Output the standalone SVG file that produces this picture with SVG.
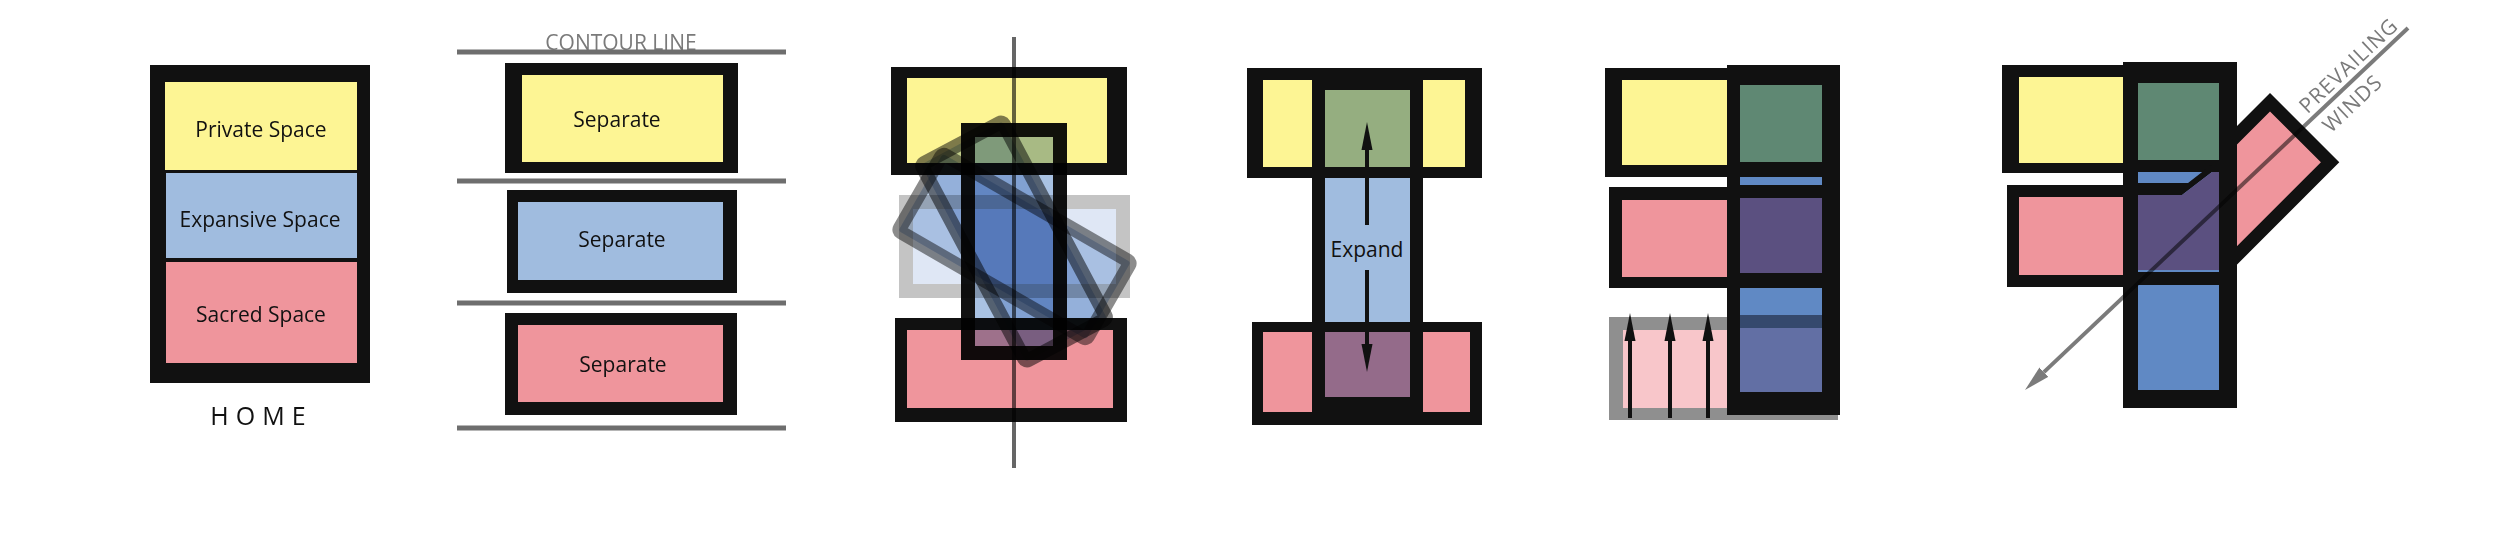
<svg xmlns="http://www.w3.org/2000/svg" width="2500" height="544" viewBox="0 0 2500 544">
<style>
.k{fill:#111}
.y{fill:#fdf594}
.b{fill:#a0bcdf}
.p{fill:#ef959c}
.gr{fill:#95ae80}
.pu{fill:#946b8a}
.dg{fill:#5f8873}
.dp{fill:#5b5080}
.db{fill:#6089c4}
.t{font-family:'Open Sans','Liberation Sans',sans-serif;font-size:21px;fill:#111;text-anchor:middle}
.gt{font-family:'Open Sans','Liberation Sans',sans-serif;font-size:21px;fill:#7a7a7a;text-anchor:middle}
.home{font-family:'Open Sans','Liberation Sans',sans-serif;font-size:25px;fill:#111;text-anchor:middle;letter-spacing:7px}
.contour{stroke:#6e6e6e;stroke-width:5}
.mul{mix-blend-mode:multiply}
.arr{stroke:#111;stroke-width:4;fill:none}
.warr{stroke:#7b7b7b;stroke-width:4;fill:none;mix-blend-mode:multiply}
</style>
<defs>
<marker id="ah" markerUnits="userSpaceOnUse" viewBox="0 -6 28 12" refX="0" refY="0" markerWidth="28" markerHeight="12" orient="auto">
<path d="M0,-5.5 L28,0 L0,5.5 z" fill="#111"/>
</marker>
<marker id="wh" markerUnits="userSpaceOnUse" viewBox="0 -7 26 14" refX="0" refY="0" markerWidth="26" markerHeight="14" orient="auto">
<path d="M0,-6.5 L26,0 L0,6.5 z" fill="#7b7b7b"/>
</marker>
</defs>
<rect width="2500" height="544" fill="#fff"/>

<g id="home">
<rect x="150" y="65" width="220" height="318" class="k"/>
<rect x="165" y="82" width="192" height="88" class="y"/>
<rect x="166" y="173" width="191" height="85" class="b"/>
<rect x="166" y="262" width="191" height="101" class="p"/>
<text x="261" y="137" class="t">Private Space</text>
<text x="260" y="227" class="t">Expansive Space</text>
<text x="261" y="322" class="t">Sacred Space</text>
<text x="261.5" y="425" class="home">HOME</text>
</g>

<g id="separate">
<text x="621" y="50" class="gt">CONTOUR LINE</text>
<line x1="457" y1="52" x2="786" y2="52" class="contour"/>
<line x1="457" y1="181" x2="786" y2="181" class="contour"/>
<line x1="457" y1="303" x2="786" y2="303" class="contour"/>
<line x1="457" y1="428" x2="786" y2="428" class="contour"/>
<rect x="505" y="63" width="233" height="110" class="k"/>
<rect x="522" y="75" width="201" height="87" class="y"/>
<rect x="507" y="190" width="230" height="103" class="k"/>
<rect x="518" y="202" width="205" height="78" class="b"/>
<rect x="505" y="313" width="232" height="102" class="k"/>
<rect x="518" y="325" width="205" height="77" class="p"/>
<text x="617" y="127" class="t">Separate</text>
<text x="622" y="247" class="t">Separate</text>
<text x="623" y="372" class="t">Separate</text>
</g>

<g id="rotate">
<rect x="891" y="67" width="236" height="108" class="k"/>
<rect x="907" y="78" width="200" height="85" class="y"/>
<rect x="895" y="318" width="232" height="104" class="k"/>
<rect x="907" y="330" width="206" height="78" class="p"/>
<rect x="906" y="202" width="217" height="89" fill="#dfe7f5" stroke="#c4c4c4" stroke-width="14"/>
<rect x="-108.5" y="-44.5" width="217" height="89" rx="3" transform="translate(1014.5,246.5) rotate(30)" fill="#c2d4ec" stroke="#000" stroke-opacity="0.45" stroke-width="14" class="mul"/>
<rect x="-46" y="-111.5" width="92" height="223" rx="3" transform="translate(1014,241.5) rotate(-28)" fill="#c2d4ec" stroke="#000" stroke-opacity="0.5" stroke-width="14" class="mul"/>
<rect x="968" y="130" width="92" height="223" fill="#a9c2e3" stroke="#111" stroke-width="14" class="mul"/>
<line x1="1014" y1="37" x2="1014" y2="468" stroke="#666" stroke-width="4" class="mul"/>
</g>

<g id="expand">
<rect x="1247" y="68" width="235" height="110" class="k"/>
<rect x="1263" y="80" width="202" height="87" class="y"/>
<rect x="1252" y="322" width="230" height="103" class="k"/>
<rect x="1263" y="332" width="207" height="80" class="p"/>
<rect x="1312" y="68" width="111" height="357" class="k"/>
<rect x="1325" y="90" width="85" height="77" class="gr"/>
<rect x="1325" y="178" width="85" height="144" class="b"/>
<rect x="1325" y="332" width="85" height="65" class="pu"/>
<text x="1367" y="257" class="t">Expand</text>
</g>

<g id="shift">
<rect x="1605" y="68" width="130" height="109" class="k"/>
<rect x="1622" y="80" width="113" height="85" class="y"/>
<rect x="1609" y="187" width="126" height="101" class="k"/>
<rect x="1622" y="200" width="113" height="77" class="p"/>
<rect x="1609" y="317" width="229" height="103" fill="#8f8f8f"/>
<rect x="1623" y="330" width="115" height="78" fill="#f8c6ca"/>
<rect x="1727" y="65" width="113" height="350" class="k"/>
<rect x="1740" y="85" width="82" height="77" class="dg"/>
<rect x="1740" y="177" width="82" height="8" class="db"/>
<rect x="1740" y="198" width="82" height="75" class="dp"/>
<rect x="1740" y="288" width="82" height="27" class="db"/>
<rect x="1740" y="315" width="82" height="13" fill="#35496d"/>
<rect x="1740" y="328" width="82" height="64" fill="#626fa4"/>
</g>

<g id="winds">
<rect x="2002" y="65" width="128" height="108" class="k"/>
<rect x="2019" y="77" width="111" height="86" class="y"/>
<rect x="2007" y="185" width="123" height="102" class="k"/>
<rect x="2019" y="197" width="111" height="78" class="p"/>
<rect x="6.5" y="6.5" width="85" height="187" transform="translate(2270,93) rotate(45)" class="p" stroke="#111" stroke-width="13"/>
<rect x="2123" y="62" width="114" height="346" class="k"/>
<rect x="2138" y="83" width="81" height="77" class="dg"/>
<rect x="2138" y="172" width="81" height="100" class="db"/>
<polygon points="2138,183 2188,183 2215,162 2219,162 2219,172 2212,172 2182,195 2138,195" class="k"/>
<polygon points="2138,195 2182,195 2212,172 2219,172 2219,270 2138,270" class="dp"/>
<rect x="2138" y="285" width="81" height="105" class="db"/>
<text transform="translate(2353.5,70.8) rotate(-43.4)" class="gt" letter-spacing="1">PREVAILING</text>
<text transform="translate(2357.5,108.8) rotate(-43.4)" class="gt" letter-spacing="1">WINDS</text>
</g>

<g id="connectors">
<line x1="1367" y1="225" x2="1367" y2="150" class="arr" marker-end="url(#ah)"/>
<line x1="1367" y1="270" x2="1367" y2="344" class="arr" marker-end="url(#ah)"/>
<line x1="1630" y1="418" x2="1630" y2="341" class="arr" marker-end="url(#ah)"/>
<line x1="1670" y1="418" x2="1670" y2="341" class="arr" marker-end="url(#ah)"/>
<line x1="1708" y1="418" x2="1708" y2="341" class="arr" marker-end="url(#ah)"/>
<line x1="2408" y1="28" x2="2043.9" y2="372.1" class="warr" marker-end="url(#wh)"/>
</g>
</svg>
